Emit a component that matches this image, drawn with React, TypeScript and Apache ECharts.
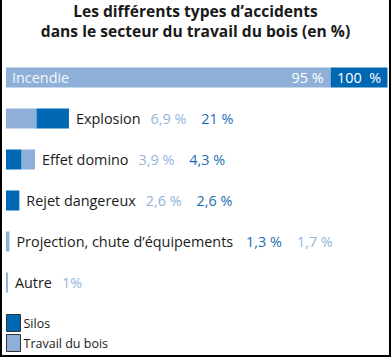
import React, { useEffect, useRef } from "react";
import * as echarts from "echarts";

const categories = [
  "Incendie",
  "Explosion",
  "Effet domino",
  "Rejet dangereux",
  "Projection, chute d’équipements",
  "Autre",
];
// value labels as printed
const silosText = ["100  %", "21 %", "4,3 %", "2,6 %", "1,3 %", ""];
const boisText = ["95 %", "6,9 %", "3,9 %", "2,6 %", "1,7 %", "1%"];
// bar lengths as drawn (schematic, share of full width)
const silosBar = [14.9, 8.5, 4.1, 3.5, 0, 0];
const boisBar = [85.1, 8.0, 3.5, 0, 0.9, 0.5];
// segment / label order per row
const silosFirst = [false, false, true, true, false, false];
const silosLabelFirst = [false, false, false, false, true, false];

const DARK = "#0067b2";
const LIGHT = "#8eb0d8";
const DARK_TXT = "#1c6eb4";
const LIGHT_TXT = "#93b5db";
const FONT = "Open Sans";

export default function App() {
  const ref = useRef<HTMLDivElement>(null);
  useEffect(() => {
    document.body.style.margin = "0";
    const chart = echarts.init(ref.current!, null, { renderer: "svg" });
    const rowLabel = (i: number) => {
      const parts = [`{n|${categories[i]}}`];
      const vals: [string, string][] = silosLabelFirst[i]
        ? [["d", silosText[i]], ["l", boisText[i]]]
        : [["l", boisText[i]], ["d", silosText[i]]];
      vals
        .filter((v) => v[1])
        .forEach(([s, t], k) => parts.push(`{${s}${k === 0 ? 1 : 2}|${t}}`));
      return parts.join("");
    };
    const common = {
      type: "bar",
      stack: "s",
      barWidth: 20,
      barGap: "-100%",
      silent: true,
    };
    const FS = 14.4;
    chart.setOption({
      animation: false,
      textStyle: { fontFamily: FONT },
      title: {
        text: "Les différents types d’accidents\ndans le secteur du travail du bois (en %)",
        left: "center",
        top: 1,
        padding: 0,
        textStyle: {
          fontFamily: FONT,
          fontWeight: "bold",
          fontSize: 15.6,
          lineHeight: 20,
          color: "#1a1a1a",
        },
      },
      legend: {
        data: ["Silos", "Travail du bois"],
        orient: "vertical",
        left: 6,
        top: 314,
        padding: 0,
        itemWidth: 14,
        itemHeight: 17,
        itemGap: 2,
        icon: "rect",
        itemStyle: { borderColor: "#333", borderWidth: 1 },
        textStyle: { fontFamily: FONT, fontSize: 12.5, color: "#1a1a1a", padding: [0, 0, 0, -2] },
        selectedMode: false,
      },
      grid: { left: 6, right: 3.5, top: 57, height: 246, containLabel: false },
      xAxis: { type: "value", min: 0, max: 100, show: false },
      yAxis: { type: "category", data: categories, inverse: true, show: false },
      series: [
        {
          ...common,
          name: "Silos",
          itemStyle: { color: DARK },
          data: categories.map((_, i) => (silosFirst[i] ? silosBar[i] : 0)),
        },
        {
          ...common,
          name: "Travail du bois",
          itemStyle: { color: LIGHT },
          data: categories.map((c, i) => ({
            value: silosFirst[i] ? 0 : boisBar[i],
            label:
              i === 0
                ? { show: true, position: "insideLeft", distance: 6, formatter: c, color: "#f3f6fb", fontSize: FS, fontFamily: FONT }
                : { show: false },
          })),
        },
        {
          ...common,
          name: "Silos",
          itemStyle: { color: DARK },
          data: categories.map((_, i) => ({
            value: silosFirst[i] ? 0 : silosBar[i],
            label:
              i === 0
                ? { show: true, position: "inside", formatter: silosText[0], color: "#ffffff", fontSize: FS, fontFamily: FONT }
                : { show: false },
          })),
        },
        {
          ...common,
          name: "Travail du bois",
          itemStyle: { color: LIGHT },
          data: categories.map((_, i) => (silosFirst[i] ? boisBar[i] : 0)),
        },
        {
          ...common,
          name: "labels",
          itemStyle: { color: "transparent" },
          data: categories.map((_, i) => ({
            value: 0,
            label:
              i === 0
                ? { show: false }
                : {
                    show: true,
                    position: "right",
                    distance: 7,
                    formatter: rowLabel(i),
                    rich: {
                      n: { color: "#1a1a1a", fontSize: FS, fontFamily: FONT, padding: [0, i === 4 ? 13 : 10, 0, 0] },
                      l1: { color: LIGHT_TXT, fontSize: FS, fontFamily: FONT, padding: [0, 15, 0, 0] },
                      d1: { color: DARK_TXT, fontSize: FS, fontFamily: FONT, padding: [0, 15, 0, 0] },
                      l2: { color: LIGHT_TXT, fontSize: FS, fontFamily: FONT },
                      d2: { color: DARK_TXT, fontSize: FS, fontFamily: FONT },
                    },
                  },
          })),
        },
        {
          type: "bar",
          name: "incendieValue",
          barWidth: 20,
          barGap: "-100%",
          silent: true,
          itemStyle: { color: "transparent" },
          data: categories.map((_, i) => ({
            value: i === 0 ? boisBar[0] : 0,
            label:
              i === 0
                ? { show: true, position: "insideRight", distance: 7, formatter: boisText[0], color: "#ffffff", fontSize: FS, fontFamily: FONT }
                : { show: false },
          })),
        },
      ],
      graphic: [
        { type: "line", shape: { x1: 1, y1: 0, x2: 1, y2: 357 }, style: { stroke: "#000", lineWidth: 2 } },
        { type: "line", shape: { x1: 390, y1: 0, x2: 390, y2: 357 }, style: { stroke: "#000", lineWidth: 2 } },
        { type: "line", shape: { x1: 0, y1: 356, x2: 391, y2: 356 }, style: { stroke: "#000", lineWidth: 2 } },
      ],
    });
    return () => chart.dispose();
  }, []);
  return <div ref={ref} style={{ width: 391, height: 357 }} />;
}
